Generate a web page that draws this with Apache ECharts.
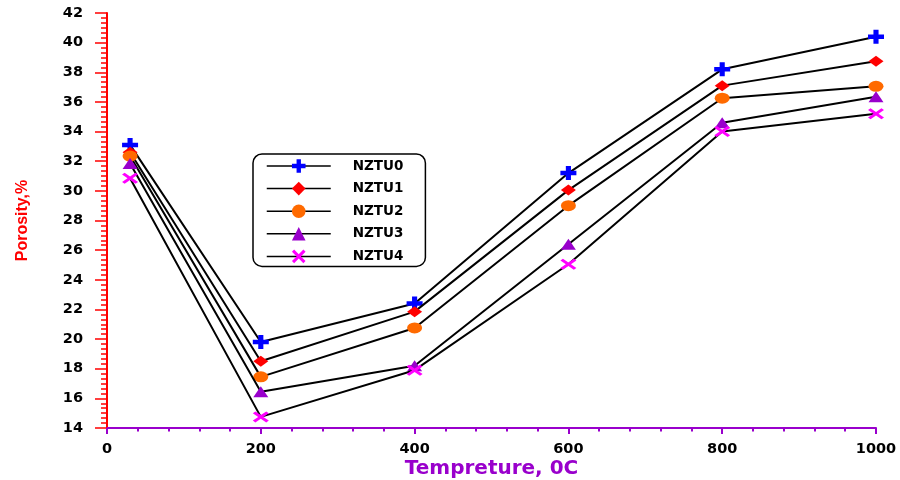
<!DOCTYPE html>
<html>
<head>
<meta charset="utf-8">
<script src="https://cdn.jsdelivr.net/npm/echarts@6/dist/echarts.min.js"></script>
<style>
  html, body { margin: 0; padding: 0; background: #fff; }
  #chart { width: 900px; height: 480px; }
</style>
</head>
<body>
<div id="chart"></div>
<script>
// Temperature (°C) at which each sample was measured
const temperatures = [30, 200, 400, 600, 800, 1000];

// Porosity (%) for each composition
const nztu0 = [33.1, 19.8, 22.4, 31.2, 38.2, 40.4];
const nztu1 = [32.6, 18.5, 21.85, 30.05, 37.1, 38.75];
const nztu2 = [32.35, 17.45, 20.75, 29.0, 36.25, 37.05];
const nztu3 = [31.85, 16.45, 18.2, 26.4, 34.6, 36.35];
const nztu4 = [30.85, 14.75, 17.9, 25.05, 34.0, 35.2];

const seriesNames = ['NZTU0', 'NZTU1', 'NZTU2', 'NZTU3', 'NZTU4'];
const seriesValues = [nztu0, nztu1, nztu2, nztu3, nztu4];

const plusPath = 'path://M3.4,0H6.6V3.4H10V6.6H6.6V10H3.4V6.6H0V3.4H3.4Z';
const crossPath = 'path://M0,1.6L1.6,0L5,3.4L8.4,0L10,1.6L6.6,5L10,8.4L8.4,10L5,6.6L1.6,10L0,8.4L3.4,5Z';

const markerStyles = [
  { symbol: plusPath, size: [16, 14], color: '#0000ff' },
  { symbol: 'diamond', size: [15, 11], color: '#ff0000' },
  { symbol: 'circle', size: [15, 11], color: '#ff6a00' },
  { symbol: 'triangle', size: [15, 11], color: '#9900cc' },
  { symbol: crossPath, size: [16, 11], color: '#ff00ff' }
];

const textFont = 'DejaVu Sans';

const chart = echarts.init(document.getElementById('chart'), null, { renderer: 'canvas' });

chart.setOption({
  animation: false,
  backgroundColor: '#ffffff',
  grid: { left: 107, right: 24, top: 13, bottom: 52, outerBoundsMode: 'none', containLabel: false },
  legend: {
    orient: 'vertical',
    left: 253,
    top: 154,
    padding: [5, 22, 3, 13],
    itemWidth: 64,
    itemHeight: 17,
    itemGap: 8.6,
    borderColor: '#000',
    borderWidth: 1.5,
    borderRadius: 9,
    backgroundColor: '#fff',
    lineStyle: { color: '#000', width: 1.5 },
    textStyle: {
      fontFamily: textFont,
      fontWeight: 'bold',
      fontSize: 13.5,
      color: '#000',
      padding: [0, 0, 0, 17]
    },
    data: seriesNames
  },
  xAxis: {
    type: 'value',
    min: 0,
    max: 1000,
    interval: 200,
    name: 'Tempreture, 0C',
    nameLocation: 'middle',
    nameGap: 31,
    nameMoveOverlap: false,
    nameTextStyle: {
      fontFamily: textFont,
      fontWeight: 'bold',
      fontSize: 20,
      color: '#9900cc'
    },
    axisLine: { show: true, lineStyle: { color: '#9900cc', width: 2 } },
    axisTick: { show: true, length: 6, lineStyle: { color: '#9900cc', width: 2 } },
    minorTick: { show: true, splitNumber: 5, length: 3.5, lineStyle: { color: '#9900cc', width: 2 } },
    splitLine: { show: false },
    minorSplitLine: { show: false },
    axisLabel: {
      margin: 14,
      fontFamily: textFont,
      fontWeight: 'bold',
      fontSize: 14.5,
      color: '#000',
      formatter: (v) => String(v)
    }
  },
  yAxis: {
    type: 'value',
    min: 14,
    max: 42,
    interval: 2,
    name: 'Porosity,%',
    nameLocation: 'middle',
    nameGap: 76,
    nameMoveOverlap: false,
    nameTextStyle: {
      fontFamily: 'Liberation Sans',
      fontWeight: 'bold',
      fontSize: 16,
      color: '#ff0000'
    },
    axisLine: { show: true, lineStyle: { color: '#ff0000', width: 2 } },
    axisTick: { show: true, length: 12, lineStyle: { color: '#ff0000', width: 1.5 } },
    minorTick: { show: true, splitNumber: 6, length: 6, lineStyle: { color: '#ff0000', width: 1.5 } },
    splitLine: { show: false },
    minorSplitLine: { show: false },
    axisLabel: {
      margin: 24,
      fontFamily: textFont,
      fontWeight: 'bold',
      fontSize: 14.5,
      color: '#000'
    }
  },
  series: seriesNames.map((name, i) => ({
    name: name,
    type: 'line',
    data: temperatures.map((t, j) => [t, seriesValues[i][j]]),
    symbol: markerStyles[i].symbol,
    symbolSize: markerStyles[i].size,
    showAllSymbol: true,
    lineStyle: { color: '#000', width: 2 },
    itemStyle: { color: markerStyles[i].color, borderWidth: 0 },
    z: 2 + i
  }))
});
</script>
</body>
</html>
